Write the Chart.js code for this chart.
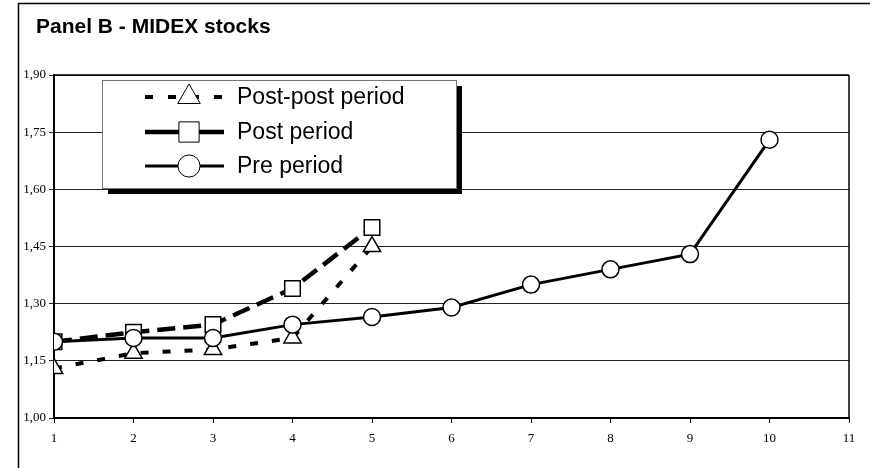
<!DOCTYPE html>
<html>
<head>
<meta charset="utf-8">
<script src="https://cdn.jsdelivr.net/npm/chart.js@4/dist/chart.umd.min.js"></script>
<style>
  html, body { margin: 0; padding: 0; background: #fff; }
</style>
</head>
<body>
<canvas id="chart" width="870" height="468"></canvas>
<script>
// Data
const chartTitle = 'Panel B - MIDEX stocks';
const periods = [1, 2, 3, 4, 5, 6, 7, 8, 9, 10];
const prePeriod = [1.20, 1.21, 1.21, 1.245, 1.265, 1.29, 1.35, 1.39, 1.43, 1.73];
const postPeriod = [1.20, 1.225, 1.245, 1.34, 1.50];
const postPostPeriod = [1.13, 1.17, 1.18, 1.21, 1.45];
const xTickMin = 1, xTickMax = 11;
const yTickMin = 1.00, yTickMax = 1.90, yTickStep = 0.15;

const toPoints = vals => vals.map((v, i) => ({ x: periods[i], y: v }));

// frame + title
const framePlugin = {
  id: 'frame',
  beforeDraw(chart) {
    const ctx = chart.ctx;
    ctx.save();
    ctx.fillStyle = '#fff';
    ctx.fillRect(0, 0, chart.width, chart.height);
    ctx.strokeStyle = '#000';
    ctx.lineWidth = 1.5;
    ctx.strokeRect(18.5, 3.5, 900, 600);
    ctx.fillStyle = '#000';
    ctx.font = 'bold 21px "Liberation Sans", Arial, sans-serif';
    ctx.textBaseline = 'alphabetic';
    ctx.fillText(chartTitle, 36, 33);
    ctx.restore();
  },
  afterDatasetsDraw(chart) {
    // right and top border of plot area
    const a = chart.chartArea, ctx = chart.ctx;
    ctx.save();
    ctx.strokeStyle = '#000';
    ctx.lineWidth = 1.5;
    ctx.beginPath();
    ctx.moveTo(a.right, a.top);
    ctx.lineTo(a.right, a.bottom);
    ctx.moveTo(a.left, a.top);
    ctx.lineTo(a.right, a.top);
    ctx.stroke();
    ctx.restore();
  }
};

// boxed legend with shadow, drawn on top
const boxLegend = {
  id: 'boxLegend',
  afterDraw(chart) {
    const ctx = chart.ctx;
    const bx = 102, by = 80, bw = 354, bh = 108;
    ctx.save();
    ctx.fillStyle = '#000';
    ctx.fillRect(bx + 6, by + 6, bw, bh);
    ctx.fillStyle = '#fff';
    ctx.fillRect(bx, by, bw, bh);
    ctx.strokeStyle = '#777';
    ctx.lineWidth = 1;
    ctx.strokeRect(bx + 0.5, by + 0.5, bw, bh);

    const rows = [97, 132, 166];
    chart.data.datasets.forEach((ds, i) => {
      const y = rows[i];
      ctx.save();
      ctx.strokeStyle = '#000';
      ctx.lineWidth = ds.borderWidth;
      ctx.setLineDash(ds.legendDash || []);
      ctx.beginPath();
      ctx.moveTo(145, y);
      ctx.lineTo(224, y);
      ctx.stroke();
      ctx.restore();
      ctx.save();
      ctx.fillStyle = '#fff';
      ctx.strokeStyle = '#000';
      Chart.helpers.drawPoint(ctx, {
        pointStyle: ds.pointStyle,
        radius: ds.pointRadius * 1.3,
        borderWidth: ds.pointBorderWidth
      }, 189, y);
      ctx.restore();
      ctx.fillStyle = '#000';
      ctx.font = '23px "Liberation Sans", Arial, sans-serif';
      ctx.textBaseline = 'middle';
      ctx.fillText(ds.label, 237, y + 1);
    });
    ctx.restore();
  }
};

const ctx = document.getElementById('chart');
new Chart(ctx, {
  type: 'line',
  data: {
    datasets: [
      {
        label: 'Post-post period',
        data: toPoints(postPostPeriod),
        borderColor: '#000',
        borderWidth: 4,
        borderDash: [8, 14],
        legendDash: [8, 15],
        pointStyle: 'triangle',
        pointRadius: 10,
        pointBorderWidth: 1.5,
        pointBackgroundColor: '#fff',
        pointBorderColor: '#000',
        order: 3
      },
      {
        label: 'Post period',
        data: toPoints(postPeriod),
        borderColor: '#000',
        borderWidth: 4.5,
        borderDash: [18, 8],
        legendDash: [],
        pointStyle: 'rect',
        pointRadius: 11,
        pointBorderWidth: 1.5,
        pointBackgroundColor: '#fff',
        pointBorderColor: '#000',
        order: 2
      },
      {
        label: 'Pre period',
        data: toPoints(prePeriod),
        borderColor: '#000',
        borderWidth: 3,
        legendDash: [],
        pointStyle: 'circle',
        pointRadius: 8.5,
        pointBorderWidth: 1.5,
        pointBackgroundColor: '#fff',
        pointBorderColor: '#000',
        order: 1
      }
    ]
  },
  options: {
    responsive: false,
    animation: false,
    devicePixelRatio: 1,
    layout: {
      padding: { top: 75, right: 21, left: 0, bottom: 0 }
    },
    plugins: {
      legend: { display: false },
      tooltip: { enabled: false }
    },
    scales: {
      x: {
        type: 'linear',
        min: xTickMin,
        max: xTickMax,
        ticks: {
          stepSize: 1,
          color: '#000',
          padding: 8,
          font: { family: '"Liberation Serif", "Times New Roman", serif', size: 13 }
        },
        grid: {
          drawOnChartArea: false,
          color: '#000',
          tickLength: 5
        },
        border: { color: '#000', width: 2 },
        afterFit: s => { s.height = 50; }
      },
      y: {
        min: yTickMin,
        max: yTickMax,
        ticks: {
          stepSize: yTickStep,
          color: '#000',
          padding: 3,
          font: { family: '"Liberation Serif", "Times New Roman", serif', size: 13 },
          callback: v => v.toFixed(2).replace('.', ',')
        },
        grid: {
          color: '#222',
          lineWidth: 1,
          tickLength: 5
        },
        border: { color: '#000', width: 2 },
        afterFit: s => { s.width = 54; }
      }
    }
  },
  plugins: [framePlugin, boxLegend]
});
</script>
</body>
</html>
